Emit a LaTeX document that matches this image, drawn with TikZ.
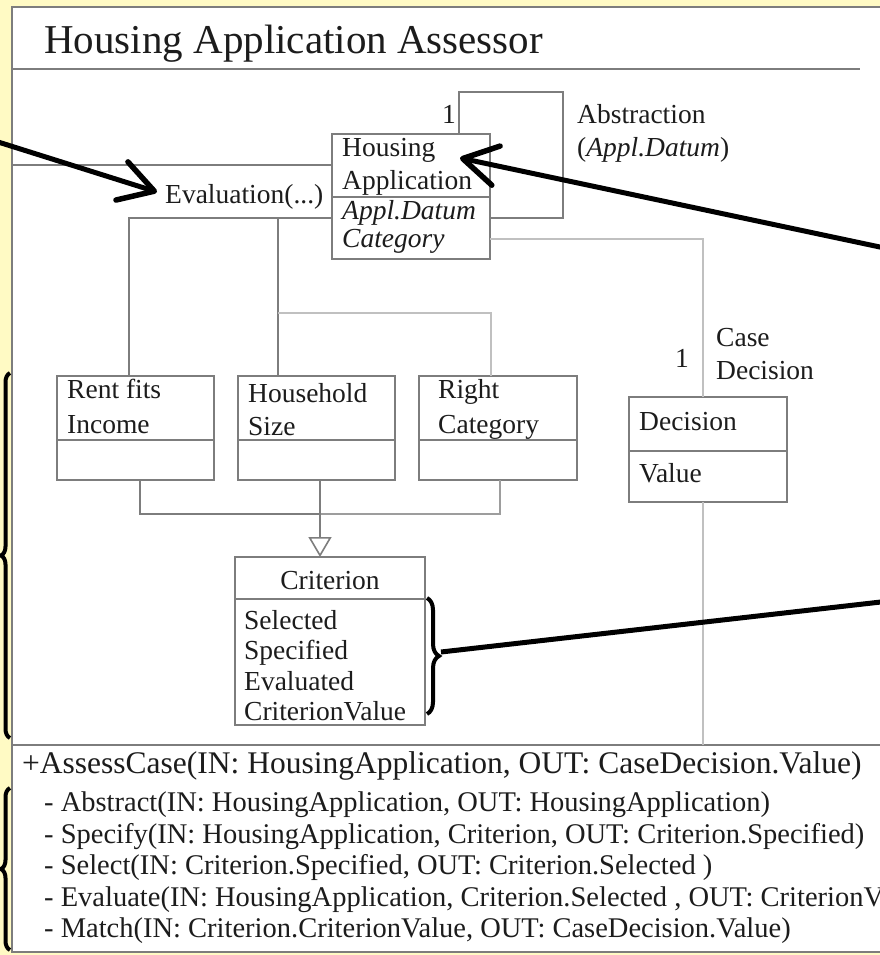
\documentclass[tikz,border=0pt]{standalone}
\usepackage{fontspec}
\setmainfont{Liberation Serif}
\usetikzlibrary{arrows.meta,decorations.pathreplacing,calc}

\definecolor{bgyellow}{RGB}{255,250,196}
\definecolor{umlgray}{RGB}{125,125,125}
\definecolor{palegray}{RGB}{192,192,192}
\definecolor{ink}{RGB}{28,28,28}

\begin{document}
\begin{tikzpicture}[x=1pt,y=-1pt,
  umlbox/.style={draw=umlgray, line width=1.6pt, fill=white, anchor=north west,
                 inner sep=0pt, outer sep=0pt},
  divider/.style={draw=umlgray, line width=1.6pt},
  link/.style={draw=umlgray, line width=1.6pt},
  palelink/.style={draw=palegray, line width=2.6pt},
  frame/.style={draw=umlgray, line width=1.6pt},
  lbl/.style={anchor=base west, inner sep=0pt, text=ink, font=\fontsize{27.5}{30}\selectfont},
  oplbl/.style={anchor=base west, inner sep=0pt, text=ink, font=\fontsize{28.5}{31}\selectfont},
  mainop/.style={anchor=base west, inner sep=0pt, text=ink, font=\fontsize{31.5}{34}\selectfont},
  titlelbl/.style={anchor=base west, inner sep=0pt, text=ink, font=\fontsize{41}{48}\selectfont},
  bracemark/.style={draw=black, line width=4pt, decorate},
  pointer/.style={draw=black, line width=5pt, line cap=round, line join=round,
                  -{Straight Barb[length=34pt, width=40pt, line width=5.5pt, line cap=round, line join=round]}},
  gen/.style={link, -{Triangle[open, length=20pt, width=23pt, fill=white]}}
]
\useasboundingbox (0,0) rectangle (880,955);
\clip (0,0) rectangle (880,955);

% page background and the component frame
\fill[bgyellow] (0,0) rectangle (880,955);
\fill[white] (12,7) rectangle (960,952);
\draw[frame] (960,952) -- (12,952) -- (12,7) -- (960,7);
\draw[frame] (12,69) -- (860,69);
\draw[frame] (12,745) -- (960,745);

\node[titlelbl] (title) at (44,54) {Housing Application Assessor};

% classes
\node[umlbox, minimum width=158pt, minimum height=125pt] (HA) at (332,134) {};
\node[umlbox, minimum width=157pt, minimum height=104pt] (RF) at (57,376) {};
\node[umlbox, minimum width=157pt, minimum height=104pt] (HS) at (238,376) {};
\node[umlbox, minimum width=158pt, minimum height=104pt] (RC) at (419,376) {};
\node[umlbox, minimum width=158pt, minimum height=105pt] (DC) at (629,397) {};
\node[umlbox, minimum width=190pt, minimum height=168pt] (CR) at (235,557) {};

\draw[divider] (HA.west |- 0,197) -- (HA.east |- 0,197);
\draw[divider] (RF.west |- 0,440) -- (RF.east |- 0,440);
\draw[divider] (HS.west |- 0,440) -- (HS.east |- 0,440);
\draw[divider] (RC.west |- 0,440) -- (RC.east |- 0,440);
\draw[divider] (DC.west |- 0,451) -- (DC.east |- 0,451);
\draw[divider] (CR.west |- 0,599) -- (CR.east |- 0,599);

% class texts
\node[lbl] (haA) at (342,156) {Housing};
\node[lbl] (haB) at (342,189) {Application};
\node[lbl] (haC) at (342,219) {\itshape Appl.Datum};
\node[lbl] (haD) at (342,247) {\itshape Category};

\node[lbl] (rfA) at (67,398) {Rent fits};
\node[lbl] (rfB) at (67,433) {Income};
\node[lbl] (hsA) at (248,402) {Household};
\node[lbl] (hsB) at (248,435) {Size};
\node[lbl] (rcA) at (438,398) {Right};
\node[lbl] (rcB) at (438,433) {Category};

\node[lbl] (dcA) at (639,430) {Decision};
\node[lbl] (dcB) at (639,482) {Value};

\node[lbl, anchor=base] (crH) at (330,589) {Criterion};
\node[lbl] (crA) at (244,629) {Selected};
\node[lbl] (crB) at (244,659) {Specified};
\node[lbl] (crC) at (244,690) {Evaluated};
\node[lbl] (crD) at (244,720) {CriterionValue};

% associations
\coordinate (evL) at (129,218);
\coordinate (evM) at (278,218);
\coordinate (evK) at (278,313);
\coordinate (evR) at (491,313);
\draw[link] (12,165) -- (HA.west |- 0,165);
\draw[link] (HA.west |- evL) -- (evL) -- (evL |- RF.north);
\draw[link] (evM) -- (evM |- HS.north);
\draw[palelink, line width=2pt] (evK) -- (evR) -- (evR |- RC.north);
\node[lbl] (evalLbl) at (165,203) {Evaluation(...)};

% self association of the application
\coordinate (abTL) at (459,92);
\coordinate (abBR) at (563,218);
\draw[link] (abTL |- HA.north) -- (abTL) -- (abTL -| abBR) -- (abBR) -- (HA.east |- abBR);
\node[lbl] (abOne) at (442,124) {1};
\node[lbl] (abA) at (577,124) {Abstraction};
\node[lbl] (abB) at (577,157) {(\textit{Appl.Datum})};

% case decision association
\coordinate (cdK) at (703,239);
\draw[palelink] (HA.east |- cdK) -- (cdK) -- (cdK |- DC.north);
\draw[palelink] (cdK |- DC.south) -- (cdK |- 0,745);
\node[lbl] (cdOne) at (675,367) {1};
\node[lbl] (cdA) at (716,346) {Case};
\node[lbl] (cdB) at (716,379) {Decision};

% generalization of the three criteria
\coordinate (gL) at (140,514);
\coordinate (gM) at (320,514);
\coordinate (gR) at (500,514);
\draw[link] (gL |- RF.south) -- (gL) -- (gM);
\draw[link, draw=umlgray!75] (gM) -- (gR) -- (gR |- RC.south);
\draw[gen] (gM |- HS.south) -- (gM |- CR.north);

% operations
\node[mainop] (opMain) at (22,773) {+AssessCase(IN: HousingApplication, OUT: CaseDecision.Value)};
\node[oplbl] (op1) at (44,811) {- Abstract(IN: HousingApplication, OUT: HousingApplication)};
\node[oplbl] (op2) at (44,843) {- Specify(IN: HousingApplication, Criterion, OUT: Criterion.Specified)};
\node[oplbl] (op3) at (44,874) {- Select(IN: Criterion.Specified, OUT: Criterion.Selected )};
\node[oplbl] (op4) at (44,906) {- Evaluate(IN: HousingApplication, Criterion.Selected , OUT: CriterionValue)};
\node[oplbl] (op5) at (44,937) {- Match(IN: Criterion.CriterionValue, OUT: CaseDecision.Value)};

% annotation braces and pointers
\draw[bracemark, decoration={brace, amplitude=9pt}] (10,738) -- (10,373);
\draw[bracemark, decoration={brace, amplitude=9pt}] (10,950) -- (10,788);
\draw[bracemark, decoration={brace, amplitude=12pt}] (427,598) -- (427,714);
\coordinate (brTip) at (441,652);
\coordinate (brFar) at (960,593);
\draw[draw=black, line width=5pt] (brTip) -- (brFar);

\coordinate (haTip) at (460,158);
\coordinate (haFar) at (960,264);
\draw[pointer] (haFar) -- (haTip);

\coordinate (evTip) at (157,192);
\coordinate (evFar) at (-40,130);
\draw[pointer] (evFar) -- (evTip);
\end{tikzpicture}
\end{document}
